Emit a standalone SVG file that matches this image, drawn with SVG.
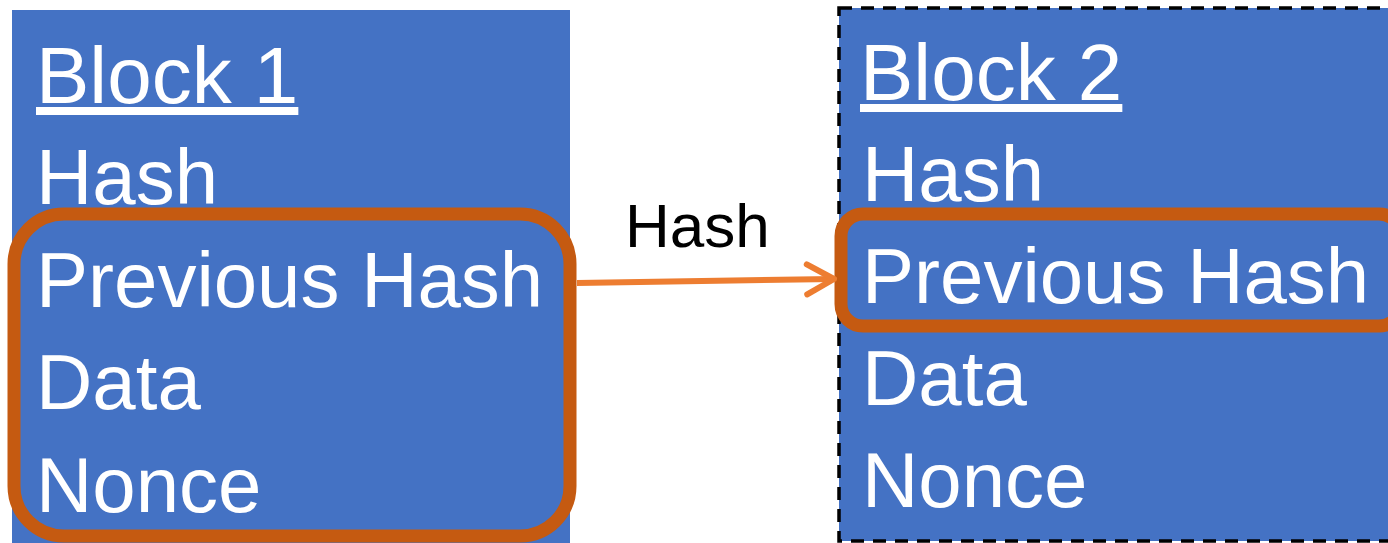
<svg xmlns="http://www.w3.org/2000/svg" width="1388" height="543" viewBox="0 0 1388 543">
<defs>
<style>
.blk{fill:#4472C4}
.t{font-family:"Liberation Sans",Arial,sans-serif;fill:#fff;font-size:78px}
.title{font-size:80px;text-decoration:underline}
.hl{fill:none;stroke:#C55A11;stroke-width:13}
</style>
<marker id="arr" viewBox="0 0 40 40" refX="30" refY="20" markerWidth="40" markerHeight="40" markerUnits="userSpaceOnUse" orient="auto" overflow="visible">
<path d="M3 5 L30 20 L3 35" fill="none" stroke="#ED7D31" stroke-width="6" stroke-linecap="round" stroke-linejoin="round"/>
</marker>
</defs>
<rect width="1388" height="543" fill="#fff"/>
<g id="block1">
<rect class="blk" x="12" y="10" width="558" height="533"/>
<text class="t title" x="36" y="103">Block 1</text>
<text class="t" x="36" y="204">Hash</text>
<text class="t" x="36" y="307">Previous Hash</text>
<text class="t" x="36" y="409">Data</text>
<text class="t" x="36" y="512">Nonce</text>
<rect class="hl" x="14" y="214" width="556" height="322" rx="50"/>
</g>
<g id="block2">
<rect class="blk" x="839" y="8" width="560" height="533" stroke="#000" stroke-width="3.5" stroke-dasharray="13 9"/>
<text class="t title" x="860" y="100">Block 2</text>
<text class="t" x="862" y="201">Hash</text>
<text class="t" x="862" y="303">Previous Hash</text>
<text class="t" x="862" y="405">Data</text>
<text class="t" x="862" y="507">Nonce</text>
<rect class="hl" x="841" y="214" width="560" height="112" rx="22"/>
</g>
<g id="connectors">
<line x1="577" y1="283" x2="834" y2="279" stroke="#ED7D31" stroke-width="6" marker-end="url(#arr)"/>
<text x="625" y="247" font-family="Liberation Sans,Arial,sans-serif" font-size="62" fill="#000">Hash</text>
</g>
</svg>
